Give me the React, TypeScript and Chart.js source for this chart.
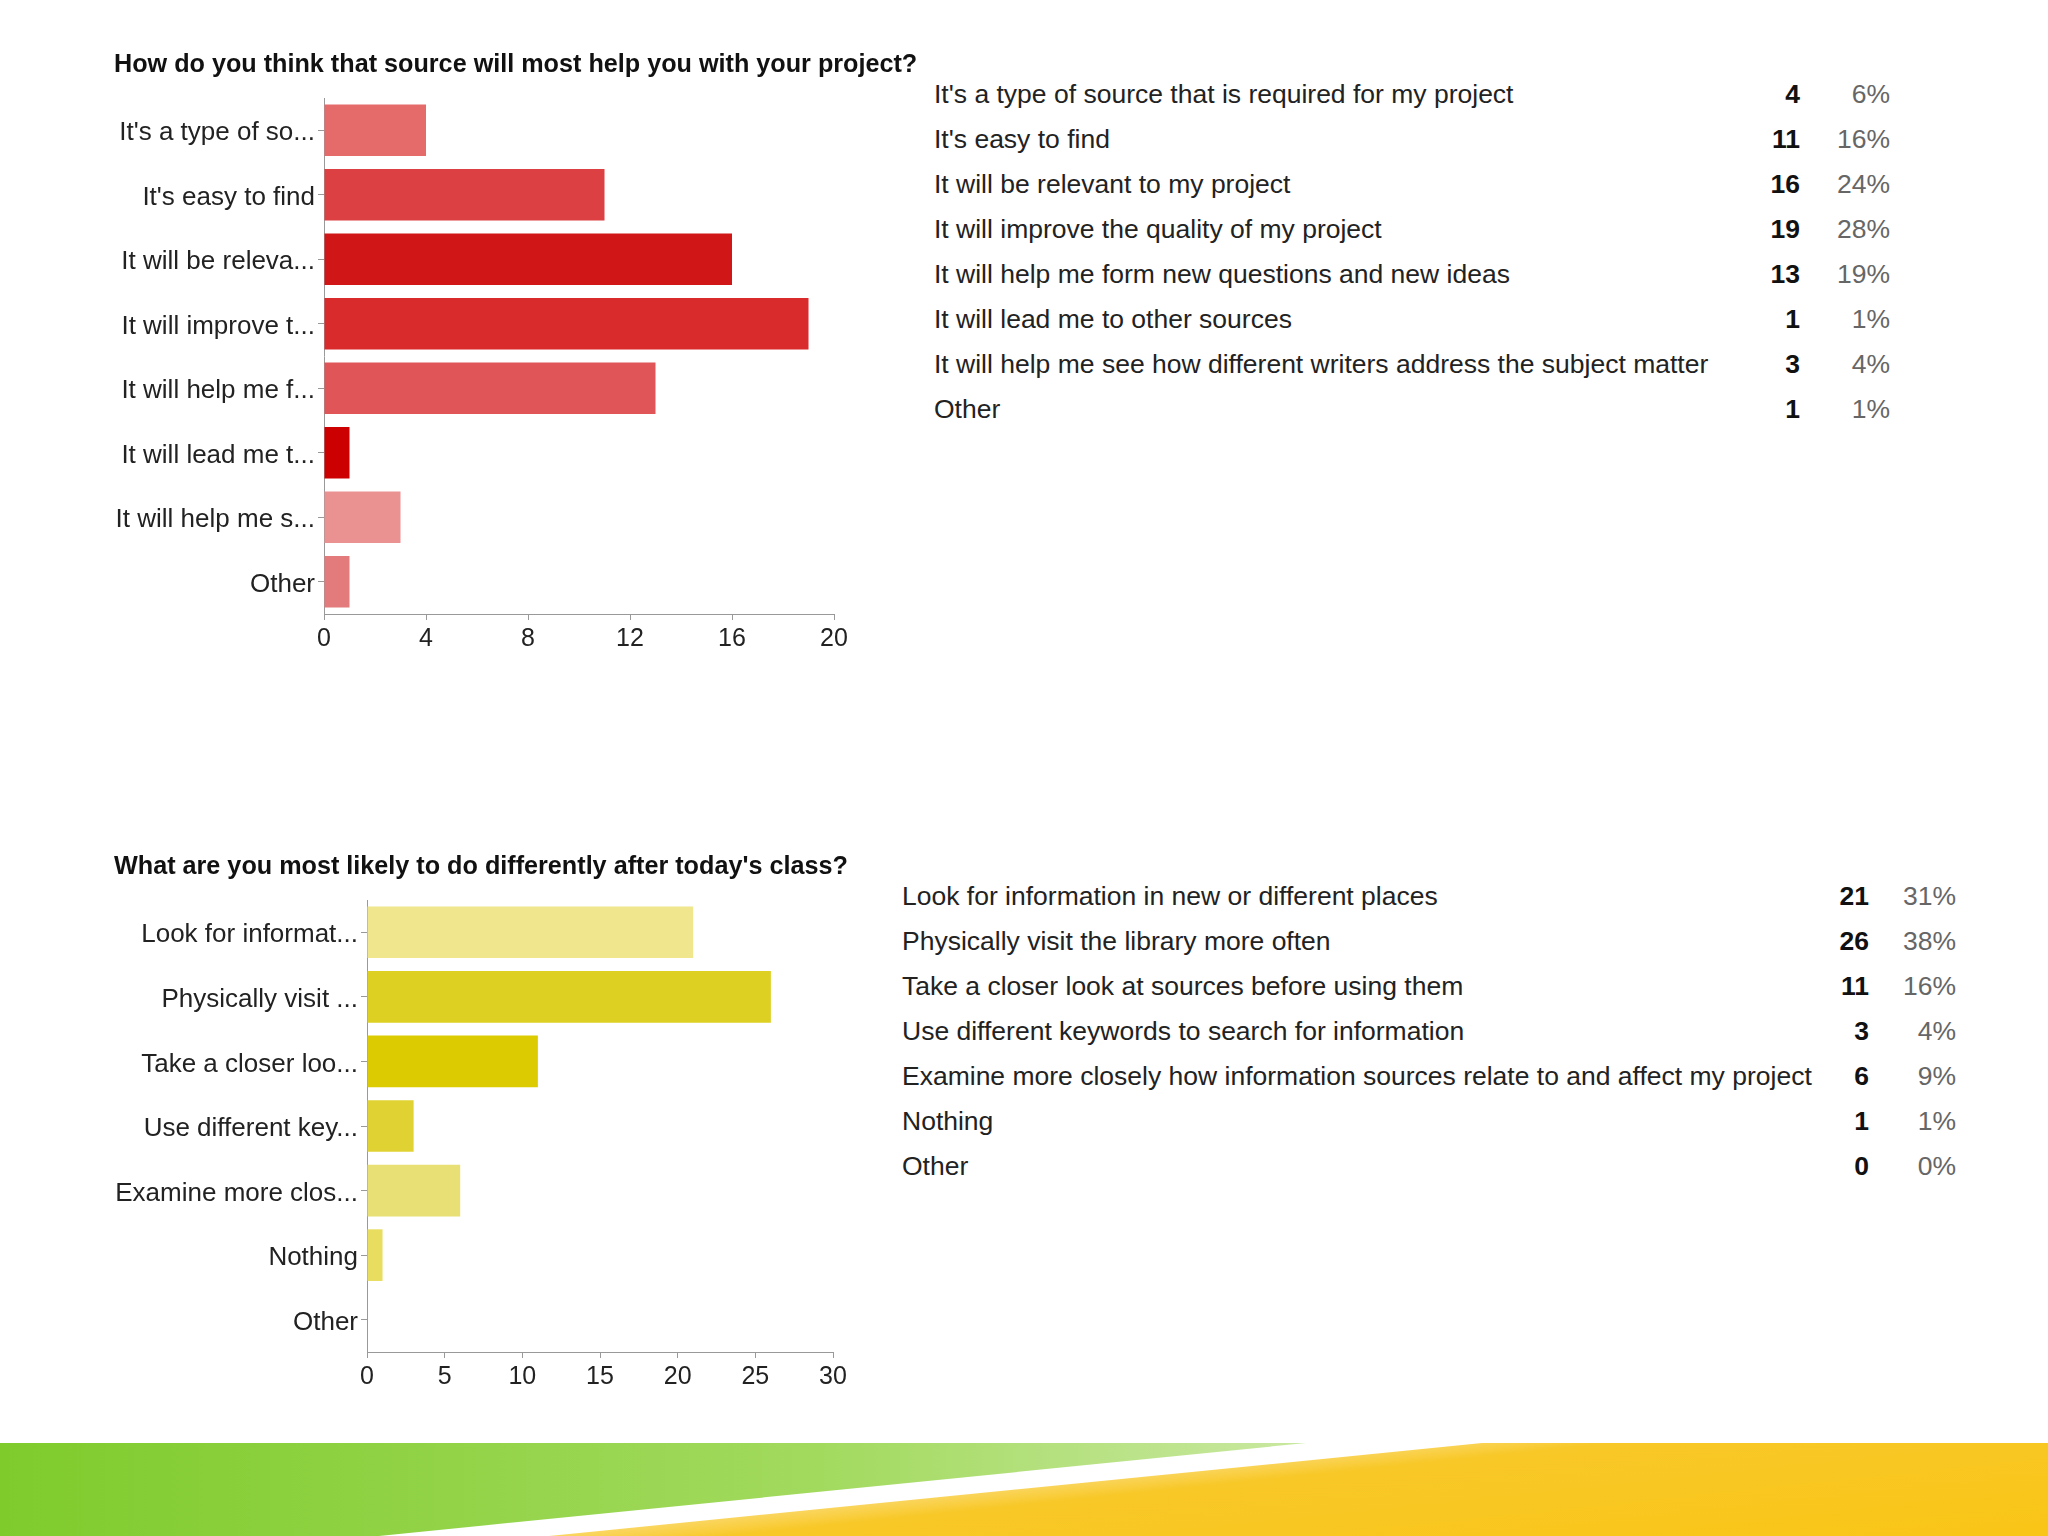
import React, { useEffect, useRef } from "react";
import { Chart, registerables } from "chart.js";

Chart.register(...registerables);

// ---------- Data ----------
const q1Title = "How do you think that source will most help you with your project?";
const q1Short = [
  "It's a type of so...",
  "It's easy to find",
  "It will be releva...",
  "It will improve t...",
  "It will help me f...",
  "It will lead me t...",
  "It will help me s...",
  "Other",
];
const q1Full = [
  "It's a type of source that is required for my project",
  "It's easy to find",
  "It will be relevant to my project",
  "It will improve the quality of my project",
  "It will help me form new questions and new ideas",
  "It will lead me to other sources",
  "It will help me see how different writers address the subject matter",
  "Other",
];
const q1Counts = [4, 11, 16, 19, 13, 1, 3, 1];
const q1Pcts = ["6%", "16%", "24%", "28%", "19%", "1%", "4%", "1%"];
const q1Colors = ["#e56b6b", "#dc4043", "#d01616", "#d92a2c", "#e05557", "#cc0000", "#ea9192", "#e37a7b"];
const q1Max = 20;
const q1Step = 4;

const q2Title = "What are you most likely to do differently after today's class?";
const q2Short = [
  "Look for informat...",
  "Physically visit ...",
  "Take a closer loo...",
  "Use different key...",
  "Examine more clos...",
  "Nothing",
  "Other",
];
const q2Full = [
  "Look for information in new or different places",
  "Physically visit the library more often",
  "Take a closer look at sources before using them",
  "Use different keywords to search for information",
  "Examine more closely how information sources relate to and affect my project",
  "Nothing",
  "Other",
];
const q2Counts = [21, 26, 11, 3, 6, 1, 0];
const q2Pcts = ["31%", "38%", "16%", "4%", "9%", "1%", "0%"];
const q2Colors = ["#efe68d", "#ddd022", "#dccb00", "#e0d232", "#e8df75", "#e8dd5f", "#f0e890"];
const q2Max = 30;
const q2Step = 5;

const FONT = "'Liberation Sans', Arial, Helvetica, sans-serif";

type BarProps = {
  labels: string[];
  values: number[];
  colors: string[];
  max: number;
  step: number;
  top: number;
  height: number;
  width: number;
  pad: { top: number; right: number; bottom: number; left: number };
  yWidth: number;
};

function BarChart(p: BarProps) {
  const ref = useRef<HTMLCanvasElement | null>(null);
  useEffect(() => {
    if (!ref.current) return;
    const chart = new Chart(ref.current, {
      type: "bar",
      data: {
        labels: p.labels,
        datasets: [
          {
            data: p.values,
            backgroundColor: p.colors,
            borderWidth: 0,
            categoryPercentage: 0.8,
            barPercentage: 1,
          },
        ],
      },
      options: {
        indexAxis: "y",
        animation: false,
        responsive: false,
        maintainAspectRatio: false,
        devicePixelRatio: 1,
        layout: { padding: p.pad },
        plugins: { legend: { display: false }, tooltip: { enabled: false }, title: { display: false } },
        scales: {
          y: {
            type: "category",
            afterFit: (s: any) => {
              s.width = p.yWidth;
            },
            border: { color: "#999999", width: 1 },
            grid: { offset: false, drawOnChartArea: false, drawTicks: true, tickLength: 6, color: "#999999" },
            ticks: { color: "#222222", font: { family: FONT, size: 26 }, padding: 3, autoSkip: false, labelOffset: 3 },
          },
          x: {
            type: "linear",
            min: 0,
            max: p.max,
            afterFit: (s: any) => {
              s.height = 50;
            },
            border: { color: "#999999", width: 1 },
            grid: { drawOnChartArea: false, drawTicks: true, tickLength: 6, color: "#999999" },
            ticks: { stepSize: p.step, color: "#222222", font: { family: FONT, size: 25 }, padding: 4 },
          },
        },
      } as any,
    });
    return () => chart.destroy();
  }, []);
  return (
    <canvas
      ref={ref}
      width={p.width}
      height={p.height}
      style={{ position: "absolute", left: 0, top: p.top, width: p.width, height: p.height }}
    />
  );
}

type TableProps = {
  labels: string[];
  counts: number[];
  pcts: string[];
  firstY: number;
  labelX: number;
  countRight: number;
  pctRight: number;
};

function Table(t: TableProps) {
  const rowH = 45;
  return (
    <>
      {t.labels.map((lab, i) => {
        const top = t.firstY + i * rowH - 16;
        const base: React.CSSProperties = {
          position: "absolute",
          top,
          height: 32,
          lineHeight: "32px",
          fontFamily: FONT,
          fontSize: 26.5,
          whiteSpace: "nowrap",
        };
        return (
          <React.Fragment key={i}>
            <div style={{ ...base, left: t.labelX, color: "#222222" }}>{lab}</div>
            <div style={{ ...base, left: t.countRight - 100, width: 100, textAlign: "right", fontWeight: "bold", color: "#111111" }}>
              {t.counts[i]}
            </div>
            <div style={{ ...base, left: t.pctRight - 100, width: 100, textAlign: "right", color: "#666666" }}>
              {t.pcts[i]}
            </div>
          </React.Fragment>
        );
      })}
    </>
  );
}

function Title({ text, x, y }: { text: string; x: number; y: number }) {
  return (
    <div
      style={{
        position: "absolute",
        left: x,
        top: y - 16,
        height: 32,
        lineHeight: "32px",
        fontFamily: FONT,
        fontSize: 25.2,
        fontWeight: "bold",
        color: "#111111",
        whiteSpace: "nowrap",
        zIndex: 2,
      }}
    >
      {text}
    </div>
  );
}

export default function App() {
  return (
    <div
      style={{
        position: "absolute",
        left: 0,
        top: 0,
        width: 2048,
        height: 1536,
        background: "#ffffff",
        overflow: "hidden",
      }}
    >
      <BarChart
        labels={q1Short}
        values={q1Counts}
        colors={q1Colors}
        max={q1Max}
        step={q1Step}
        top={0}
        width={900}
        height={680}
        pad={{ top: 98, right: 66, bottom: 16, left: 0 }}
        yWidth={324}
      />
      <Title text={q1Title} x={114} y={63} />
      <Table labels={q1Full} counts={q1Counts} pcts={q1Pcts} firstY={94} labelX={934} countRight={1800} pctRight={1890} />

      <BarChart
        labels={q2Short}
        values={q2Counts}
        colors={q2Colors}
        max={q2Max}
        step={q2Step}
        top={820}
        width={900}
        height={600}
        pad={{ top: 80, right: 67, bottom: 18, left: 0 }}
        yWidth={367}
      />
      <Title text={q2Title} x={114} y={865} />
      <Table labels={q2Full} counts={q2Counts} pcts={q2Pcts} firstY={896} labelX={902} countRight={1869} pctRight={1956} />

      {/* decorative footer */}
      <div
        style={{
          position: "absolute",
          left: 0,
          top: 1443,
          width: 2048,
          height: 93,
          background: "linear-gradient(to right, #7fcb2c 0%, #a2da5e 40%, #c6e79c 62%)",
          clipPath: "polygon(0 0, 1306px 0, 379px 100%, 0 100%)",
        }}
      />
      <div
        style={{
          position: "absolute",
          left: 0,
          top: 1443,
          width: 2048,
          height: 93,
          background: "linear-gradient(174deg, #f6c01a 0%, #f9cc3a 30%, #fde7a4 42%, #f8c828 55%, #f9c516 100%)",
          clipPath: "polygon(1482px 0, 2048px 0, 2048px 100%, 549px 100%)",
        }}
      />
    </div>
  );
}
